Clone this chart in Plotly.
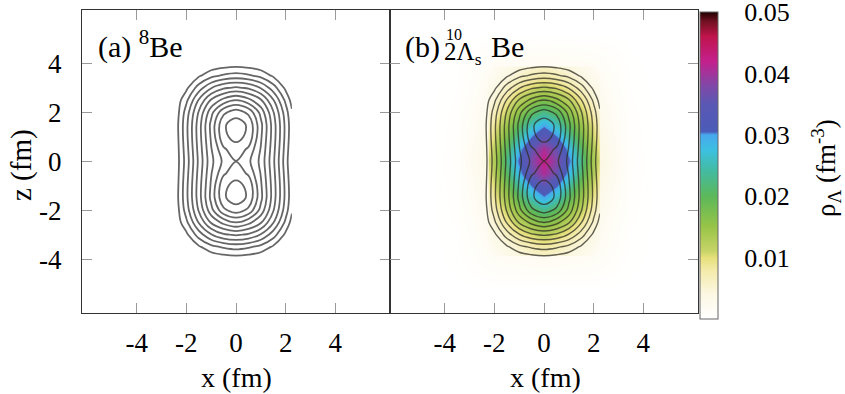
import numpy as np
import plotly.graph_objects as go

W, H = 845, 394
SERIF = "Times New Roman"

# ---------------- data (first quadrant, mirrored below) ----------------
# core density (fm^-3) for the contour lines, x >= 0, z >= 0
core_x_q = [0.0, 0.5, 1.0, 1.5, 2.0, 2.25, 2.5]
core_z_q = [0.0, 0.5, 1.0, 1.5, 2.0, 2.5, 3.0, 3.5, 4.0]
core_rho_q = [
    [0.0998, 0.0923, 0.0773, 0.0522, 0.0244, 0.0106, 0.0000],
    [0.1064, 0.0984, 0.0793, 0.0536, 0.0257, 0.0119, 0.0000],
    [0.1128, 0.1081, 0.0816, 0.0550, 0.0271, 0.0132, 0.0005],
    [0.1150, 0.1086, 0.0828, 0.0550, 0.0272, 0.0137, 0.0010],
    [0.1055, 0.0976, 0.0765, 0.0510, 0.0245, 0.0115, 0.0000],
    [0.0800, 0.0731, 0.0612, 0.0406, 0.0176, 0.0061, 0.0000],
    [0.0515, 0.0485, 0.0392, 0.0248, 0.0075, 0.0000, 0.0000],
    [0.0240, 0.0215, 0.0169, 0.0083, 0.0010, 0.0000, 0.0000],
    [0.0045, 0.0035, 0.0010, 0.0000, 0.0000, 0.0000, 0.0000],
]
core_levels = [0.01, 0.11, 0.01]  # start, end, step

# Lambda density (fm^-3) inside the calculation box, x >= 0, z >= 0
lam_x_q = [0.0, 0.5, 1.0, 1.5, 2.0, 2.15]
lam_z_q = [0.0, 0.5, 1.0, 1.5, 2.0, 2.5, 3.0, 3.5, 3.74]
lam_rho_q = [
    [0.0425, 0.0380, 0.0310, 0.0225, 0.0135, 0.0110],
    [0.0405, 0.0360, 0.0285, 0.0205, 0.0125, 0.0100],
    [0.0350, 0.0305, 0.0240, 0.0175, 0.0105, 0.0085],
    [0.0295, 0.0255, 0.0200, 0.0145, 0.0090, 0.0070],
    [0.0230, 0.0200, 0.0160, 0.0115, 0.0070, 0.0055],
    [0.0170, 0.0150, 0.0120, 0.0085, 0.0052, 0.0042],
    [0.0120, 0.0105, 0.0085, 0.0060, 0.0037, 0.0030],
    [0.0080, 0.0070, 0.0056, 0.0040, 0.0025, 0.0020],
    [0.0065, 0.0057, 0.0046, 0.0033, 0.0020, 0.0016],
]

# faint Lambda tail outside the box
halo_x_q = [0.0, 2.0, 2.75, 3.5, 4.5]
halo_z_q = [0.0, 2.0, 3.5, 4.3, 5.2]
halo_rho_q = [
    [0.0050, 0.0050, 0.0024, 0.0006, 0.0],
    [0.0038, 0.0032, 0.0016, 0.0004, 0.0],
    [0.0025, 0.0020, 0.0010, 0.0002, 0.0],
    [0.0015, 0.0011, 0.0005, 0.0001, 0.0],
    [0.0000, 0.0000, 0.0000, 0.0000, 0.0],
]

tick_vals = [-4, -2, 0, 2, 4]
tick_text = ["-4", "-2", "0", "2", "4"]
cbar_vals = [0.01, 0.02, 0.03, 0.04, 0.05]
cbar_text = ["0.01", "0.02", "0.03", "0.04", "0.05"]

colorscale = [
    [0.00, "#ffffff"], [0.08, "#fcf8e4"], [0.16, "#f3eaa8"], [0.20, "#e6e07a"],
    [0.22, "#c8d468"], [0.30, "#98c448"], [0.40, "#5cb85a"], [0.48, "#44bba0"],
    [0.55, "#3cc0e0"], [0.60, "#48a8ee"], [0.61, "#4a5cb8"], [0.70, "#5a58b4"],
    [0.76, "#8048a8"], [0.84, "#c4208c"], [0.92, "#c0144c"], [0.97, "#701020"],
    [1.00, "#200000"],
]


def mirror(xq, zq, q, left_idx=None, right_idx=None):
    q = np.asarray(q, dtype=float)
    n = len(xq)
    if left_idx is None:
        left_idx = list(range(n - 1, 0, -1))
    if right_idx is None:
        right_idx = list(range(1, n))
    cols = left_idx + [0] + right_idx
    xs = [-xq[i] for i in left_idx] + [xq[0]] + [xq[i] for i in right_idx]
    zs = [-z for z in zq[:0:-1]] + list(zq)
    rows = np.vstack([q[:0:-1], q])
    return xs, zs, rows[:, cols]


cx, cz, crho = mirror(core_x_q, core_z_q, core_rho_q, [6, 4, 3, 2, 1], [1, 2, 3, 4, 5])
lx, lz, lrho = mirror(lam_x_q, lam_z_q, lam_rho_q)
hx, hz, hrho = mirror(halo_x_q, halo_z_q, halo_rho_q)


def px(x):
    return x / W


def py(y):
    return 1 - y / H


fig = go.Figure()

fig.add_trace(go.Heatmap(x=hx, y=hz, z=hrho, coloraxis="coloraxis", zsmooth="best",
                         xaxis="x2", yaxis="y2", hoverinfo="skip"))
fig.add_trace(go.Heatmap(x=lx, y=lz, z=lrho, coloraxis="coloraxis", zsmooth="best",
                         xaxis="x2", yaxis="y2", hoverinfo="skip"))

contour_def = dict(start=core_levels[0], end=core_levels[1], size=core_levels[2], coloring="none")
fig.add_trace(go.Contour(x=cx, y=cz, z=crho, contours=contour_def, showscale=False,
                         line=dict(color="#666666", width=1.8, smoothing=1.0),
                         xaxis="x", yaxis="y", hoverinfo="skip"))
fig.add_trace(go.Contour(x=cx, y=cz, z=crho, contours=contour_def, showscale=False,
                         line=dict(color="rgba(45,45,35,0.75)", width=1.4, smoothing=1.0),
                         xaxis="x2", yaxis="y2", hoverinfo="skip"))

axis_common = dict(range=[-6.2, 6.2], tickvals=tick_vals, ticktext=tick_text,
                   ticks="inside", ticklen=10, tickcolor="#9a9a9a", tickwidth=1,
                   showline=True, linecolor="#333333", linewidth=1, mirror="ticks",
                   showgrid=False, zeroline=False,
                   tickfont=dict(family=SERIF, size=27, color="black"))

dom_y = [py(313), py(9.5)]
fig.update_layout(
    width=W, height=H, margin=dict(l=0, r=0, t=0, b=0),
    paper_bgcolor="white", plot_bgcolor="white", showlegend=False,
    font=dict(family=SERIF, color="black"),
    xaxis=dict(axis_common, domain=[px(82), px(390)], anchor="y", ticklabelstandoff=6),
    yaxis=dict(axis_common, domain=dom_y, anchor="x", ticklabelstandoff=14),
    xaxis2=dict(axis_common, domain=[px(390), px(698)], anchor="y2", ticklabelstandoff=6),
    yaxis2=dict(axis_common, domain=dom_y, anchor="x2", showticklabels=False),
    coloraxis=dict(
        colorscale=colorscale, cmin=0, cmax=0.05,
        colorbar=dict(x=px(700), xanchor="left", xpad=0, y=py(12), yanchor="top", ypad=0,
                      len=(319 - 12) / H, lenmode="fraction", thickness=18,
                      outlinewidth=1, outlinecolor="#666666",
                      tickvals=cbar_vals, ticktext=cbar_text, ticks="outside", ticklen=21,
                      tickcolor="rgba(0,0,0,0)", ticklabeloverflow="allow",
                      tickfont=dict(family=SERIF, size=26, color="black")),
    ),
)

txt = dict(family=SERIF, color="black")
ann = [
    dict(x=px(236), y=py(377), text="x (fm)", font=dict(txt, size=28)),
    dict(x=px(545), y=py(377), text="x (fm)", font=dict(txt, size=28)),
    dict(x=px(21), y=py(165), text="z (fm)", textangle=-90, font=dict(txt, size=29)),
    dict(x=px(826), y=py(168), text="ρ<sub>Λ</sub> (fm<sup>-3</sup>)", textangle=-90,
         font=dict(txt, size=27)),
    dict(x=px(96), y=py(44), text="(a) <sup>8</sup>Be", xanchor="left", font=dict(txt, size=30)),
    dict(x=px(403), y=py(47), text="(b)", xanchor="left", font=dict(txt, size=30)),
    dict(x=px(444), y=py(35), text="10", xanchor="left", font=dict(txt, size=16)),
    dict(x=px(442), y=py(54), text="2Λ<sub>s</sub>", xanchor="left", font=dict(txt, size=25)),
    dict(x=px(489), y=py(47), text="Be", xanchor="left", font=dict(txt, size=30)),
]
for a in ann:
    a.setdefault("xanchor", "center")
    a.update(xref="paper", yref="paper", yanchor="middle", showarrow=False)
fig.update_layout(annotations=ann)

fig.write_html("out.html")
